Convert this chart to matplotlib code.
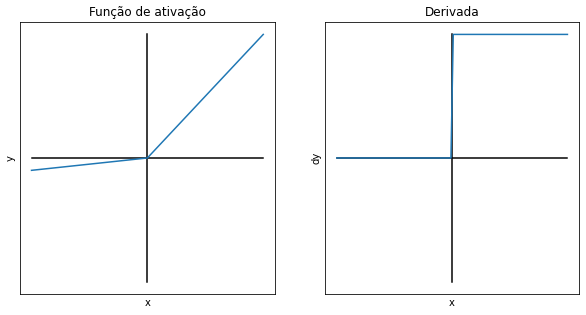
import matplotlib
matplotlib.use("Agg")
import matplotlib.pyplot as plt

# leaky ReLU (alpha ~ 0.1) and its derivative
x_func = [-5, 0, 5]
y_func = [-0.5, 0, 5]

x_deriv = [-5, -0.05, 0.05, 5]
y_deriv = [0, 0, 1, 1]

titles = ["Função de ativação", "Derivada"]
ylabels = ["y", "dy"]


def draw(ax, xs, ys, title, ylabel):
    lim = max(abs(v) for v in ys)
    ax.plot([min(xs), max(xs)], [0, 0], color="black")
    ax.plot([0, 0], [-lim, lim], color="black")
    ax.plot(xs, ys, color="tab:blue")
    ax.set_title(title)
    ax.set_xlabel("x")
    ax.set_ylabel(ylabel)
    ax.set_xticks([])
    ax.set_yticks([])


fig = plt.figure(figsize=(586 / 72, 315 / 72), dpi=72)
ax1 = fig.add_axes([0.034, 0.067, 0.435, 0.863])
ax2 = fig.add_axes([0.555, 0.067, 0.433, 0.863])

draw(ax1, x_func, y_func, titles[0], ylabels[0])
draw(ax2, x_deriv, y_deriv, titles[1], ylabels[1])

fig.savefig("out.png", dpi=72)
